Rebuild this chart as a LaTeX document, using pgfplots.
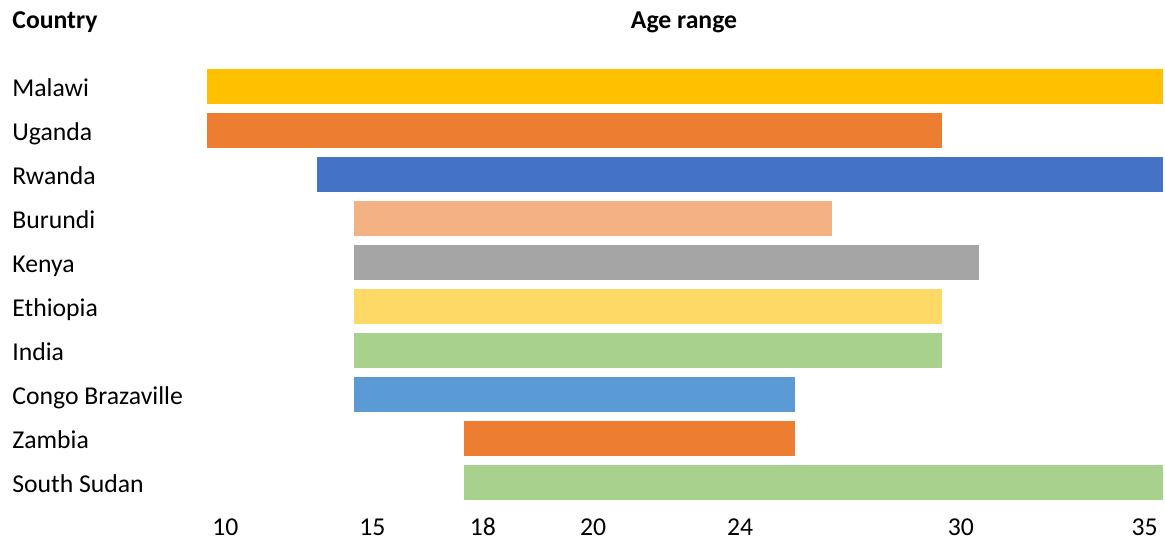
\documentclass[border=0pt]{standalone}
\usepackage{pgfplots}
\pgfplotsset{compat=1.18}
\usepackage{fontspec}
\setmainfont{Carlito}
\definecolor{cMalawi}{HTML}{FFC000}
\definecolor{cUganda}{HTML}{ED7D31}
\definecolor{cRwanda}{HTML}{4472C4}
\definecolor{cBurundi}{HTML}{F4B183}
\definecolor{cKenya}{HTML}{A5A5A5}
\definecolor{cEthiopia}{HTML}{FFD966}
\definecolor{cIndia}{HTML}{A9D18E}
\definecolor{cCongo}{HTML}{5B9BD5}
\definecolor{cZambia}{HTML}{ED7D31}
\definecolor{cSSudan}{HTML}{A9D18E}
\newcommand{\lblfont}{\fontsize{12.85}{15}\selectfont}
\begin{document}
\begin{tikzpicture}
\useasboundingbox (0,0) rectangle (582.5pt,270.5pt);
\begin{axis}[
  at={(0,0)}, anchor=south west,
  scale only axis, width=582.5pt, height=270.5pt,
  xmin=-5.6297, xmax=26.054,
  ymin=-1.9659, ymax=10.3295, y dir=reverse,
  axis line style={draw=none}, major tick length=0pt,
  xtick={0.5,4.5,7.5,10.5,14.5,20.5,25.5},
  xticklabels={10,15,18,20,24,30,35},
  ytick={0,1,2,3,4,5,6,7,8,9},
  yticklabels={Malawi,Uganda,Rwanda,Burundi,Kenya,Ethiopia,India,Congo Brazaville,Zambia,South Sudan},
  xticklabel style={anchor=base, inner sep=0pt, yshift=3pt},
  yticklabel style={anchor=base west, inner sep=0pt, xshift=6pt, yshift=-4.75pt},
  tick label style={font=\lblfont, text=black},
  /pgf/number format/assume math mode=true,
  clip=false,
  every axis plot/.append style={line width=17.5pt, line cap=butt},
]
\addplot[cMalawi]   coordinates {(0,0) (26,0)};
\addplot[cUganda]   coordinates {(0,1) (20,1)};
\addplot[cRwanda]   coordinates {(3,2) (26,2)};
\addplot[cBurundi]  coordinates {(4,3) (17,3)};
\addplot[cKenya]    coordinates {(4,4) (21,4)};
\addplot[cEthiopia] coordinates {(4,5) (20,5)};
\addplot[cIndia]    coordinates {(4,6) (20,6)};
\addplot[cCongo]    coordinates {(4,7) (16,7)};
\addplot[cZambia]   coordinates {(7,8) (16,8)};
\addplot[cSSudan]   coordinates {(7,9) (26,9)};
\node[anchor=base west, inner sep=0pt, font=\bfseries\lblfont] at (axis cs:-5.303,-1.3295) {Country};
\node[anchor=base, inner sep=0pt, font=\bfseries\lblfont] at (axis cs:12.973,-1.3295) {Age range};
\end{axis}
\end{tikzpicture}
\end{document}
